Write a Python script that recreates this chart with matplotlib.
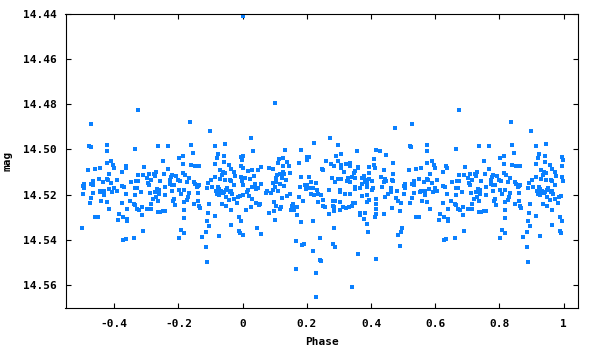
"""
Phase-folded light curve (mag vs phase), gnuplot-like look.
Points were read for phase -0.5 .. 0.5; the 0.5 .. 1 half is the
usual fold copy (negative phases + 1).
"""

import matplotlib
matplotlib.use("Agg")
import matplotlib.pyplot as plt
from matplotlib.ticker import FixedLocator, FuncFormatter

OUTPUT_PNG = "out.png"

POINT_COLOR = "#0a80ff"
INK = "#000000"

# ---- data: phase / mag, grouped by phase range ----
phase_a = [-0.471, -0.480, -0.474, -0.424, -0.424, -0.409, -0.424, -0.403, -0.400, -0.365,
           -0.362, -0.443, -0.459, -0.483, -0.375, -0.415, -0.449, -0.424, -0.421, -0.465,
           -0.434, -0.409, -0.393, -0.493, -0.496, -0.471, -0.465, -0.493, -0.375, -0.369,
           -0.400, -0.418, -0.393, -0.406, -0.443, -0.437, -0.431, -0.446, -0.431, -0.465,
           -0.496, -0.362, -0.347, -0.471, -0.440, -0.424, -0.477, -0.375, -0.350, -0.359,
           -0.415, -0.384, -0.459, -0.452, -0.372, -0.387, -0.359, -0.359, -0.502, -0.365,
           -0.372]
mag_a = [14.4888, 14.4985, 14.4990, 14.4981, 14.5007, 14.5051, 14.5060, 14.5069, 14.5082, 14.5073,
         14.5082, 14.5082, 14.5086, 14.5091, 14.5100, 14.5108, 14.5131, 14.5131, 14.5135, 14.5139,
         14.5144, 14.5148, 14.5135, 14.5153, 14.5161, 14.5153, 14.5157, 14.5170, 14.5161, 14.5166,
         14.5170, 14.5175, 14.5183, 14.5188, 14.5183, 14.5183, 14.5183, 14.5188, 14.5201, 14.5192,
         14.5197, 14.5197, 14.5144, 14.5214, 14.5227, 14.5232, 14.5236, 14.5236, 14.5227, 14.5263,
         14.5263, 14.5285, 14.5298, 14.5298, 14.5298, 14.5311, 14.5307, 14.5316, 14.5346, 14.5395,
         14.5399]

phase_b = [-0.325, -0.334, -0.263, -0.232, -0.247, -0.198, -0.185, -0.185, -0.306, -0.232,
           -0.325, -0.309, -0.291, -0.275, -0.269, -0.244, -0.219, -0.207, -0.223, -0.185,
           -0.179, -0.297, -0.272, -0.285, -0.331, -0.325, -0.294, -0.291, -0.257, -0.226,
           -0.201, -0.195, -0.226, -0.219, -0.213, -0.173, -0.334, -0.328, -0.266, -0.260,
           -0.241, -0.316, -0.272, -0.288, -0.260, -0.263, -0.219, -0.198, -0.182, -0.191,
           -0.334, -0.241, -0.269, -0.278, -0.213, -0.216, -0.263, -0.182, -0.173, -0.285,
           -0.337, -0.334, -0.210, -0.313, -0.328, -0.322, -0.297, -0.285, -0.263, -0.257,
           -0.247, -0.241, -0.182, -0.313, -0.182, -0.310, -0.191, -0.182, -0.337, -0.198]
mag_b = [14.4827, 14.4998, 14.4985, 14.4985, 14.5051, 14.5038, 14.5029, 14.5064, 14.5078, 14.5086,
         14.5113, 14.5113, 14.5108, 14.5108, 14.5100, 14.5108, 14.5113, 14.5117, 14.5122, 14.5104,
         14.5113, 14.5126, 14.5117, 14.5135, 14.5139, 14.5139, 14.5148, 14.5157, 14.5139, 14.5135,
         14.5135, 14.5139, 14.5153, 14.5157, 14.5157, 14.5144, 14.5170, 14.5170, 14.5175, 14.5179,
         14.5166, 14.5188, 14.5188, 14.5192, 14.5197, 14.5188, 14.5183, 14.5179, 14.5179, 14.5197,
         14.5201, 14.5201, 14.5210, 14.5219, 14.5219, 14.5227, 14.5227, 14.5232, 14.5223, 14.5241,
         14.5241, 14.5245, 14.5245, 14.5254, 14.5263, 14.5267, 14.5263, 14.5263, 14.5276, 14.5276,
         14.5272, 14.5272, 14.5267, 14.5289, 14.5302, 14.5360, 14.5355, 14.5368, 14.5390, 14.5390]

phase_c = [-0.164, -0.101, -0.160, -0.086, -0.055, -0.154, -0.077, -0.080, -0.058, -0.005,
           0.001, -0.002, -0.086, -0.058, -0.160, -0.148, -0.136, -0.042, -0.036, -0.005,
           0.001, -0.070, -0.061, -0.064, -0.055, -0.027, -0.024, -0.086, -0.167, -0.098,
           -0.070, -0.055, -0.039, -0.036, -0.005, -0.151, -0.148, -0.108, -0.027, -0.002,
           0.001, -0.139, -0.142, -0.136, -0.095, -0.111, -0.077, -0.074, -0.083, -0.049,
           -0.052, -0.058, -0.067, -0.061, -0.080, -0.074, -0.077, -0.036, -0.033, -0.039,
           -0.167, -0.139, -0.014, -0.008, 0.001, -0.052, -0.042, -0.027, -0.170, -0.139,
           -0.151, -0.105, -0.064, -0.052, -0.017, -0.136, -0.132, -0.036, -0.108, -0.086,
           -0.011, -0.111, -0.005, -0.105, -0.036, -0.011, -0.114, -0.008, -0.126, -0.074,
           0.000, -0.114, -0.111, 0.000]
mag_c = [14.4880, 14.4920, 14.4981, 14.4985, 14.4976, 14.5016, 14.5020, 14.5038, 14.5029, 14.5034,
         14.5029, 14.5047, 14.5064, 14.5056, 14.5069, 14.5073, 14.5073, 14.5069, 14.5086, 14.5073,
         14.5082, 14.5091, 14.5100, 14.5113, 14.5104, 14.5100, 14.5117, 14.5122, 14.5126, 14.5135,
         14.5131, 14.5135, 14.5135, 14.5139, 14.5122, 14.5144, 14.5153, 14.5148, 14.5157, 14.5139,
         14.5157, 14.5161, 14.5166, 14.5157, 14.5166, 14.5170, 14.5166, 14.5175, 14.5183, 14.5170,
         14.5179, 14.5188, 14.5183, 14.5192, 14.5197, 14.5201, 14.5192, 14.5183, 14.5197, 14.5188,
         14.5192, 14.5192, 14.5210, 14.5205, 14.5201, 14.5210, 14.5223, 14.5219, 14.5210, 14.5227,
         14.5241, 14.5241, 14.5241, 14.5250, 14.5236, 14.5250, 14.5258, 14.5267, 14.5280, 14.5293,
         14.5298, 14.5316, 14.5316, 14.5338, 14.5333, 14.5360, 14.5364, 14.5368, 14.5386, 14.5381,
         14.5377, 14.5430, 14.5496, 14.4410]

phase_d = [0.100, 0.026, 0.032, 0.131, 0.113, 0.125, 0.138, 0.110, 0.125, 0.144,
           0.175, 0.057, 0.082, 0.094, 0.017, 0.029, 0.048, 0.125, 0.128, 0.116,
           0.107, 0.104, 0.147, 0.035, 0.007, 0.023, 0.122, 0.134, 0.104, 0.094,
           0.116, 0.128, 0.038, 0.057, 0.029, 0.038, 0.048, 0.041, 0.100, 0.094,
           0.076, 0.072, 0.088, 0.110, 0.017, 0.013, 0.020, 0.029, 0.147, 0.138,
           0.122, 0.175, 0.041, 0.054, 0.051, 0.097, 0.104, 0.156, 0.153, 0.162,
           0.169, 0.119, 0.116, 0.010, 0.026, 0.097, 0.082, 0.150, 0.159, 0.169,
           0.100, 0.045, 0.057, 0.166, 0.166]
mag_d = [14.4796, 14.4950, 14.5007, 14.5003, 14.5042, 14.5038, 14.5056, 14.5060, 14.5073, 14.5073,
         14.5060, 14.5078, 14.5082, 14.5086, 14.5095, 14.5091, 14.5091, 14.5100, 14.5108, 14.5108,
         14.5113, 14.5126, 14.5104, 14.5117, 14.5126, 14.5131, 14.5126, 14.5135, 14.5144, 14.5148,
         14.5153, 14.5161, 14.5153, 14.5153, 14.5166, 14.5166, 14.5170, 14.5175, 14.5166, 14.5179,
         14.5183, 14.5192, 14.5192, 14.5183, 14.5179, 14.5188, 14.5205, 14.5219, 14.5197, 14.5205,
         14.5214, 14.5210, 14.5236, 14.5241, 14.5245, 14.5232, 14.5250, 14.5241, 14.5250, 14.5254,
         14.5254, 14.5254, 14.5263, 14.5267, 14.5254, 14.5272, 14.5280, 14.5267, 14.5267, 14.5289,
         14.5311, 14.5346, 14.5373, 14.5404, 14.5527]

phase_e = [0.271, 0.222, 0.296, 0.181, 0.308, 0.290, 0.200, 0.206, 0.200, 0.259,
           0.296, 0.274, 0.284, 0.308, 0.308, 0.321, 0.333, 0.336, 0.246, 0.249,
           0.315, 0.346, 0.349, 0.181, 0.206, 0.277, 0.296, 0.308, 0.327, 0.340,
           0.212, 0.228, 0.287, 0.324, 0.336, 0.349, 0.194, 0.200, 0.178, 0.209,
           0.218, 0.197, 0.231, 0.268, 0.302, 0.302, 0.349, 0.349, 0.212, 0.222,
           0.234, 0.243, 0.318, 0.336, 0.187, 0.234, 0.249, 0.281, 0.287, 0.302,
           0.343, 0.349, 0.340, 0.249, 0.256, 0.281, 0.284, 0.312, 0.321, 0.330,
           0.284, 0.302, 0.268, 0.181, 0.218, 0.284, 0.240, 0.190, 0.184, 0.281,
           0.287, 0.218, 0.240, 0.243, 0.228, 0.340, 0.228]
mag_e = [14.4950, 14.4972, 14.4981, 14.5003, 14.5020, 14.5029, 14.5034, 14.5034, 14.5047, 14.5051,
         14.5051, 14.5064, 14.5073, 14.5069, 14.5082, 14.5064, 14.5060, 14.5073, 14.5086, 14.5091,
         14.5100, 14.5104, 14.5095, 14.5122, 14.5122, 14.5126, 14.5131, 14.5131, 14.5126, 14.5122,
         14.5144, 14.5148, 14.5144, 14.5139, 14.5144, 14.5126, 14.5157, 14.5157, 14.5166, 14.5170,
         14.5170, 14.5175, 14.5179, 14.5179, 14.5179, 14.5188, 14.5166, 14.5175, 14.5197, 14.5201,
         14.5197, 14.5201, 14.5197, 14.5197, 14.5227, 14.5232, 14.5223, 14.5227, 14.5227, 14.5232,
         14.5236, 14.5236, 14.5250, 14.5250, 14.5254, 14.5250, 14.5254, 14.5254, 14.5258, 14.5254,
         14.5272, 14.5267, 14.5285, 14.5320, 14.5316, 14.5346, 14.5390, 14.5417, 14.5421, 14.5417,
         14.5430, 14.5448, 14.5487, 14.5492, 14.5545, 14.5606, 14.5650]

phase_f = [0.476, 0.355, 0.417, 0.427, 0.448, 0.408, 0.470, 0.408, 0.395, 0.411,
           0.361, 0.358, 0.439, 0.395, 0.470, 0.377, 0.430, 0.371, 0.383, 0.395,
           0.445, 0.464, 0.467, 0.448, 0.442, 0.380, 0.389, 0.402, 0.371, 0.386,
           0.367, 0.389, 0.405, 0.402, 0.433, 0.461, 0.461, 0.454, 0.482, 0.371,
           0.386, 0.414, 0.386, 0.395, 0.445, 0.479, 0.485, 0.492, 0.414, 0.414,
           0.464, 0.439, 0.442, 0.489, 0.367, 0.367, 0.380, 0.414, 0.411, 0.377,
           0.386, 0.492, 0.485, 0.392, 0.489, 0.358, 0.414]
mag_f = [14.4906, 14.5007, 14.5003, 14.5007, 14.5025, 14.5042, 14.5060, 14.5069, 14.5078, 14.5082,
         14.5082, 14.5078, 14.5091, 14.5104, 14.5108, 14.5117, 14.5122, 14.5126, 14.5135, 14.5131,
         14.5131, 14.5135, 14.5139, 14.5139, 14.5144, 14.5144, 14.5144, 14.5139, 14.5153, 14.5153,
         14.5170, 14.5166, 14.5170, 14.5179, 14.5166, 14.5170, 14.5188, 14.5197, 14.5183, 14.5205,
         14.5201, 14.5219, 14.5232, 14.5223, 14.5210, 14.5214, 14.5227, 14.5236, 14.5241, 14.5263,
         14.5258, 14.5285, 14.5285, 14.5272, 14.5280, 14.5289, 14.5280, 14.5285, 14.5298, 14.5307,
         14.5330, 14.5364, 14.5377, 14.5364, 14.5426, 14.5460, 14.5483]

X_TICKS = [-0.4, -0.2, 0, 0.2, 0.4, 0.6, 0.8, 1]
Y_TICKS = [14.44, 14.46, 14.48, 14.50, 14.52, 14.54, 14.56]


def main():
    phase = phase_a + phase_b + phase_c + phase_d + phase_e + phase_f
    mag = mag_a + mag_b + mag_c + mag_d + mag_e + mag_f
    # second half of the fold: the negative phases shifted by one cycle
    phase_all = phase + [p + 1 for p in phase if p < 0]
    mag_all = mag + [m for p, m in zip(phase, mag) if p < 0]

    plt.rcParams["axes.unicode_minus"] = False
    plt.rcParams["font.family"] = "DejaVu Sans Mono"
    plt.rcParams["font.weight"] = "bold"

    fig = plt.figure(figsize=(6.0, 3.5), dpi=100, facecolor="white")
    ax = fig.add_axes([65.5 / 600, 1 - 308 / 350, 512.5 / 600, 294.5 / 350])

    ax.plot(phase_all, mag_all, linestyle="none", marker="s", markersize=2.3,
            markeredgewidth=0, color=POINT_COLOR)

    ax.set_xlim(-0.552, 1.045)
    ax.set_ylim(14.57, 14.44)
    ax.xaxis.set_major_locator(FixedLocator(X_TICKS))
    ax.yaxis.set_major_locator(FixedLocator(Y_TICKS))
    ax.xaxis.set_major_formatter(FuncFormatter(lambda v, _: f"{v:g}"))
    ax.yaxis.set_major_formatter(FuncFormatter(lambda v, _: f"{v:.2f}"))

    for spine in ax.spines.values():
        spine.set_color(INK)
        spine.set_linewidth(0.8)
    ax.tick_params(direction="in", length=3.5, width=0.8, colors=INK,
                   top=True, right=True, labelsize=8)
    ax.tick_params(axis="x", pad=8)
    ax.tick_params(axis="y", pad=6)

    ax.set_xlabel("Phase", fontsize=8, fontweight="bold", labelpad=6)
    ax.set_ylabel("mag", fontsize=8, fontweight="bold", labelpad=8)

    fig.savefig(OUTPUT_PNG, dpi=100, facecolor="white")
    plt.close(fig)


if __name__ == "__main__":
    main()
